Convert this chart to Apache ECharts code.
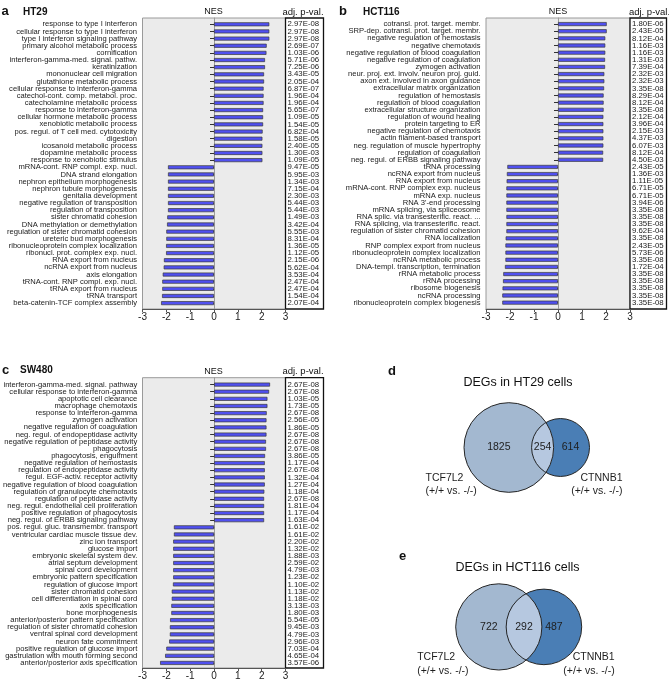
<!DOCTYPE html>
<html><head><meta charset="utf-8">
<script src="https://cdn.jsdelivr.net/npm/echarts@6/dist/echarts.min.js"></script>
<style>html,body{margin:0;padding:0;background:#fff}#c{width:669px;height:683px}</style>
</head><body><div id="c"></div>
<script>
// ---------------- DATA ----------------
const nesTicks = [-3, -2, -1, 0, 1, 2, 3];

const aTerms = ["response to type I interferon","cellular response to type I interferon","type I interferon signaling pathway","primary alcohol metabolic process","cornification","interferon-gamma-med. signal. pathw.","keratinization","mononuclear cell migration","glutathione metabolic process","cellular response to interferon-gamma","catechol-cont. comp. metabol. proc.","catecholamine metabolic process","response to interferon-gamma","cellular hormone metabolic process","xenobiotic metabolic process","pos. regul. of T cell med. cytotoxicity","digestion","icosanoid metabolic process","dopamine metabolic process","response to xenobiotic stimulus","mRNA-cont. RNP compl. exp. nucl.","DNA strand elongation","nephron epithelium morphogenesis","nephron tubule morphogenesis","genitalia development","negative regulation of transposition","regulation of transposition","sister chromatid cohesion","DNA methylation or demethylation","regulation of sister chromatid cohesion","ureteric bud morphogenesis","ribonucleoprotein complex localization","ribonucl. prot. complex exp. nucl.","RNA export from nucleus","ncRNA export from nucleus","axis elongation","tRNA-cont. RNP compl. exp. nucl.","tRNA export from nucleus","tRNA transport","beta-catenin-TCF complex assembly"];
const aNES = [2.32,2.32,2.32,2.21,2.20,2.14,2.14,2.10,2.10,2.08,2.08,2.08,2.06,2.06,2.06,2.04,2.03,2.03,2.03,2.03,-1.93,-1.93,-1.93,-1.93,-1.93,-1.93,-1.93,-1.96,-1.97,-2.00,-2.00,-2.01,-2.01,-2.10,-2.11,-2.15,-2.17,-2.17,-2.18,-2.22];
const aPadj = ["2.97E-08","2.97E-08","2.97E-08","2.69E-07","1.03E-06","5.71E-06","7.25E-06","3.43E-05","2.05E-04","6.87E-07","1.96E-04","1.96E-04","5.65E-07","1.09E-05","1.54E-05","6.82E-04","1.58E-05","2.40E-05","1.30E-03","1.09E-05","9.47E-05","5.95E-03","1.34E-03","7.15E-04","2.30E-03","5.44E-03","5.44E-03","1.49E-03","3.42E-04","5.55E-03","8.31E-04","1.36E-05","1.12E-05","2.15E-06","5.62E-04","3.53E-04","2.47E-04","2.47E-04","1.54E-04","2.07E-04"];

const bTerms = ["cotransl. prot. target. membr.","SRP-dep. cotransl. prot. target. membr.","negative regulation of hemostasis","negative chemotaxis","negative regulation of blood coagulation","negative regulation of coagulation","zymogen activation","neur. proj. ext. involv. neuron proj. guid.","axon ext. involved in axon guidance","extracellular matrix organization","regulation of hemostasis","regulation of blood coagulation","extracellular structure organization","regulation of wound healing","protein targeting to ER","negative regulation of chemotaxis","actin filament-based transport","neg. regulation of muscle hypertrophy","regulation of coagulation","neg. regul. of ERBB signaling pathway","tRNA processing","ncRNA export from nucleus","RNA export from nucleus","mRNA-cont. RNP complex exp. nucleus","mRNA exp. nucleus","RNA 3'-end processing","mRNA splicing, via spliceosome","RNA splic. via transesterific. react. ...","RNA splicing, via transesterific. react.","regulation of sister chromatid cohesion","RNA localization","RNP complex export from nucleus","ribonucleoprotein complex localization","ncRNA metabolic process","DNA-templ. transcription, termination","rRNA metabolic process","rRNA processing","ribosome biogenesis","ncRNA processing","ribonucleoprotein complex biogenesis"];
const bNES = [2.03,2.03,1.97,1.97,1.97,1.96,1.96,1.93,1.93,1.92,1.90,1.90,1.90,1.89,1.89,1.89,1.89,1.89,1.88,1.88,-2.11,-2.13,-2.14,-2.15,-2.15,-2.15,-2.15,-2.15,-2.15,-2.15,-2.18,-2.19,-2.19,-2.19,-2.21,-2.28,-2.29,-2.31,-2.32,-2.32];
const bPadj = ["1.80E-06","2.43E-05","8.12E-04","1.16E-03","1.16E-03","1.31E-03","7.39E-04","2.32E-03","2.32E-03","3.35E-08","8.29E-04","8.12E-04","3.35E-08","2.12E-04","3.96E-04","2.15E-03","4.37E-03","6.07E-03","8.12E-04","4.50E-03","2.43E-05","1.36E-03","1.11E-05","6.71E-05","6.71E-05","3.94E-06","3.35E-08","3.35E-08","3.35E-08","9.62E-04","3.35E-08","2.43E-05","5.73E-06","3.35E-08","1.72E-04","3.35E-08","3.35E-08","3.35E-08","3.35E-08","3.35E-08"];

const cTerms = ["interferon-gamma-med. signal. pathway","cellular response to interferon-gamma","apoptotic cell clearance","macrophage chemotaxis","response to interferon-gamma","zymogen activation","negative regulation of coagulation","neg. regul. of endopeptidase activity","negative regulation of peptidase activity","phagocytosis","phagocytosis, engulfment","negative regulation of hemostasis","regulation of endopeptidase activity","regul. EGF-activ. receptor activity","negative regulation of blood coagulation","regulation of granulocyte chemotaxis","regulation of peptidase activity","neg. regul. endothelial cell proliferation","positive regulation of phagocytosis","neg. regul. of ERBB signaling pathway","pos. regul. gluc. transmembr. transport","ventricular cardiac muscle tissue dev.","zinc ion transport","glucose import","embryonic skeletal system dev.","atrial septum development","spinal cord development","embryonic pattern specification","regulation of glucose import","sister chromatid cohesion","cell differentiation in spinal cord","axis specification","bone morphogenesis","anterior/posterior pattern specification","regulation of sister chromatid cohesion","ventral spinal cord development","neuron fate commitment","positive regulation of glucose import","gastrulation with mouth forming second","anterior/posterior axis specification"];
const cNES = [2.35,2.31,2.24,2.24,2.21,2.20,2.20,2.20,2.18,2.18,2.14,2.13,2.13,2.13,2.13,2.11,2.10,2.10,2.10,2.10,-1.69,-1.69,-1.72,-1.72,-1.72,-1.72,-1.72,-1.72,-1.73,-1.78,-1.78,-1.80,-1.80,-1.85,-1.86,-1.86,-1.89,-2.01,-2.06,-2.27];
const cPadj = ["2.67E-08","2.67E-08","1.03E-05","1.73E-05","2.67E-08","2.56E-05","1.86E-05","2.67E-08","2.67E-08","2.67E-08","3.86E-05","1.17E-04","2.67E-08","1.32E-04","1.27E-04","1.18E-04","2.67E-08","1.81E-04","1.17E-04","1.63E-04","1.61E-02","1.61E-02","2.20E-02","1.32E-02","1.88E-03","2.59E-02","4.79E-03","1.23E-02","1.10E-02","1.13E-02","1.18E-02","3.13E-03","1.80E-03","5.54E-05","9.45E-03","4.79E-03","2.96E-03","7.03E-04","4.65E-04","3.57E-06"];

// Venn: [only TCF7L2, both, only CTNNB1]
const vennSets = ["TCF7L2", "CTNNB1"];
const vennSub = "(+/+ vs. -/-)";
const vennHT29 = [1825, 254, 614];
const vennHCT116 = [722, 292, 487];

// ---------------- LAYOUT / STYLE ----------------
const FONT = "'Liberation Sans', Arial, sans-serif";
const panels = [
  { terms: aTerms, nes: aNES, padj: aPadj, boxL: 142.5, boxR: 285.5, pvR: 323.5, boxT: 18, boxB: 309, rowT: 20.7, rowB: 306.7 },
  { terms: bTerms, nes: bNES, padj: bPadj, boxL: 486, boxR: 630, pvR: 666.5, boxT: 18, boxB: 309, rowT: 20.5, rowB: 306.2 },
  { terms: cTerms, nes: cNES, padj: cPadj, boxL: 142.5, boxR: 285.5, pvR: 323.5, boxT: 377.7, boxB: 668, rowT: 381, rowB: 666.5 }
];
const vennLayouts = [
  { counts: vennHT29, left: 464, width: 125.5, cy: 447.5 },
  { counts: vennHCT116, left: 455.7, width: 126, cy: 630.8 }
];

const grid = [], xAxis = [], yAxis = [], series = [];

panels.forEach(p => {
  const w = p.boxR - p.boxL;
  // background box with visible NES axis and zero line
  let gi = grid.length;
  grid.push({ left: p.boxL, top: p.boxT, width: w, height: p.boxB - p.boxT, show: true, z: -2,
    backgroundColor: '#ebebeb', borderColor: '#9a9a9a', borderWidth: 1 });
  xAxis.push({ gridIndex: gi, type: 'value', min: nesTicks[0], max: nesTicks[nesTicks.length - 1], interval: 1,
    axisLine: { show: true, onZero: false, lineStyle: { color: '#555', width: 1 } },
    axisTick: { show: true, length: 3, lineStyle: { color: '#555' } },
    axisLabel: { fontSize: 10, color: '#222', margin: 3, fontFamily: FONT },
    splitLine: { show: false } });
  yAxis.push({ gridIndex: gi, type: 'value', min: -1, max: 1,
    axisLine: { show: true, onZero: true, lineStyle: { color: '#9c9c9c', width: 1 } },
    axisTick: { show: false }, axisLabel: { show: false }, splitLine: { show: false } });

  // bars grid
  gi = grid.length;
  grid.push({ left: p.boxL, top: p.rowT, width: w, height: p.rowB - p.rowT, show: false });
  const xi = xAxis.length;
  xAxis.push({ gridIndex: gi, type: 'value', min: nesTicks[0], max: nesTicks[nesTicks.length - 1], interval: 1, show: false });
  const yi = yAxis.length;
  yAxis.push({ gridIndex: gi, type: 'category', data: p.terms, inverse: true,
    axisLine: { show: false },
    axisTick: { show: true, alignWithLabel: true, length: 4, lineStyle: { color: '#333' } },
    axisLabel: { interval: 0, fontSize: 7.6, color: '#1a1a1a', margin: 5.5, fontFamily: FONT } });
  yAxis.push({ gridIndex: gi, type: 'category', data: p.padj, inverse: true, position: 'right',
    axisLine: { show: false }, axisTick: { show: false },
    axisLabel: { interval: 0, fontSize: 7.8, color: '#1a1a1a', margin: 2, fontFamily: FONT } });
  series.push({ type: 'bar', xAxisIndex: xi, yAxisIndex: yi, data: p.nes, barWidth: 4, silent: true,
    itemStyle: { color: '#5050f0', borderColor: '#3a3a3a', borderWidth: 0.7 } });

  // p-value box
  gi = grid.length;
  grid.push({ left: p.boxR, top: p.boxT, width: p.pvR - p.boxR, height: p.boxB - p.boxT, show: true, z: -1,
    backgroundColor: '#ffffff', borderColor: '#111', borderWidth: 1.3 });
  xAxis.push({ gridIndex: gi, type: 'value', show: false });
  yAxis.push({ gridIndex: gi, type: 'value', show: false });
});

// Venn geometry from counts: circle area = set size, lens area = overlap size
function lensArea(d, r1, r2) {
  if (d >= r1 + r2) return 0;
  if (d <= Math.abs(r1 - r2)) return Math.PI * Math.min(r1, r2) ** 2;
  const a1 = Math.acos((d * d + r1 * r1 - r2 * r2) / (2 * d * r1));
  const a2 = Math.acos((d * d + r2 * r2 - r1 * r1) / (2 * d * r2));
  return r1 * r1 * a1 + r2 * r2 * a2 - 0.5 * Math.sqrt((-d + r1 + r2) * (d + r1 - r2) * (d - r1 + r2) * (d + r1 + r2));
}
function solveDist(r1, r2, target) {
  let lo = Math.abs(r1 - r2), hi = r1 + r2;
  for (let i = 0; i < 80; i++) { const m = (lo + hi) / 2; if (lensArea(m, r1, r2) > target) lo = m; else hi = m; }
  return (lo + hi) / 2;
}

vennLayouts.forEach(v => {
  const [onlyA, both, onlyB] = v.counts;
  const rA = Math.sqrt((onlyA + both) / Math.PI);
  const rB = Math.sqrt((onlyB + both) / Math.PI);
  const dist = solveDist(rA, rB, both);
  const span = rA + dist + rB;
  const pxPerUnit = v.width / span;
  const H = 120;
  const gi = grid.length;
  grid.push({ left: v.left, top: v.cy - H / 2, width: v.width, height: H, show: false });
  const xi = xAxis.length, yi = yAxis.length;
  xAxis.push({ gridIndex: gi, type: 'value', min: -rA, max: dist + rB, show: false });
  yAxis.push({ gridIndex: gi, type: 'value', min: -H / 2 / pxPerUnit, max: H / 2 / pxPerUnit, show: false });
  series.push({
    type: 'custom', coordinateSystem: 'cartesian2d', xAxisIndex: xi, yAxisIndex: yi, silent: true, clip: false,
    data: [[0, 0, dist, rA, rB]],
    renderItem: function (params, api) {
      const cA = api.coord([0, 0]);
      const cB = api.coord([dist, 0]);
      const ra = api.size([rA, 0])[0];
      const rb = api.size([rB, 0])[0];
      const dpx = cB[0] - cA[0];
      const xi2 = cA[0] + (dpx * dpx + ra * ra - rb * rb) / (2 * dpx);
      const h = Math.sqrt(Math.max(0, ra * ra - (xi2 - cA[0]) ** 2));
      const y = cA[1];
      const lgB = cB[0] < xi2 ? 1 : 0, lgA = cA[0] > xi2 ? 1 : 0;
      const pathData = 'M' + xi2 + ' ' + (y - h) + ' A' + rb + ' ' + rb + ' 0 ' + lgB + ' 0 ' + xi2 + ' ' + (y + h) +
        ' A' + ra + ' ' + ra + ' 0 ' + lgA + ' 0 ' + xi2 + ' ' + (y - h) + ' Z';
      const stroke = '#262626';
      const txt = (t, x, yy, align, size) => ({ type: 'text', x: x, y: yy,
        style: { text: t, fill: '#1e1e1e', font: size + 'px ' + FONT, align: align, textAlign: align,
          verticalAlign: 'middle', textVerticalAlign: 'middle' } });
      const lensMid = ((cB[0] - rb) + (cA[0] + ra)) / 2;
      return { type: 'group', children: [
        { type: 'circle', shape: { cx: cA[0], cy: y, r: ra }, style: { fill: '#a3b8d0' } },
        { type: 'circle', shape: { cx: cB[0], cy: y, r: rb }, style: { fill: '#4a7eb5' } },
        { type: 'path', shape: { pathData: pathData }, style: { fill: '#b6c8e0' } },
        { type: 'circle', shape: { cx: cA[0], cy: y, r: ra }, style: { fill: 'none', stroke: stroke, lineWidth: 1 } },
        { type: 'circle', shape: { cx: cB[0], cy: y, r: rb }, style: { fill: 'none', stroke: stroke, lineWidth: 1 } },
        txt(String(onlyA), cA[0] - 10, y, 'center', 10.5),
        txt(String(both), lensMid, y, 'center', 10.5),
        txt(String(onlyB), cB[0] + 10, y, 'center', 10.5),
        txt(vennSets[0], cA[0] - ra - 38.5, y + 30.5, 'left', 10.5),
        txt(vennSub, cA[0] - ra - 38.5, y + 44, 'left', 10.5),
        txt(vennSets[1], cB[0] + rb + 33, y + 30.5, 'right', 10.5),
        txt(vennSub, cB[0] + rb + 33, y + 44, 'right', 10.5)
      ] };
    }
  });
});

// header texts
function T(text, x, y, size, bold, align) {
  return { type: 'text', x: x, y: y, silent: true,
    style: { text: text, fill: '#111', font: (bold ? 'bold ' : '') + size + 'px ' + FONT,
      align: align || 'left', textAlign: align || 'left', verticalAlign: 'middle', textVerticalAlign: 'middle' } };
}
const graphics = [
  T('a', 1.5, 11, 13, true), T('HT29', 23, 12, 10, true),
  T('NES', 213.5, 12, 9, false, 'center'), T('adj. p-val.', 303, 12, 9.5, false, 'center'),
  T('b', 339, 11, 13, true), T('HCT116', 363, 12, 10, true),
  T('NES', 558, 12, 9, false, 'center'), T('adj. p-val.', 649.5, 12, 9.5, false, 'center'),
  T('c', 2, 370, 13, true), T('SW480', 20, 370, 10, true),
  T('NES', 213.5, 371.5, 9, false, 'center'), T('adj. p-val.', 303, 371.5, 9.5, false, 'center'),
  T('d', 388, 371.5, 13, true), T('DEGs in HT29 cells', 518, 383, 12.5, false, 'center'),
  T('e', 399, 556, 13, true), T('DEGs in HCT116 cells', 517.5, 568, 12.5, false, 'center')
];

const chart = echarts.init(document.getElementById('c'), null, { renderer: 'canvas' });
chart.setOption({
  animation: false,
  backgroundColor: '#ffffff',
  textStyle: { fontFamily: FONT },
  grid: grid, xAxis: xAxis, yAxis: yAxis, series: series,
  graphic: { elements: graphics }
});
</script></body></html>
